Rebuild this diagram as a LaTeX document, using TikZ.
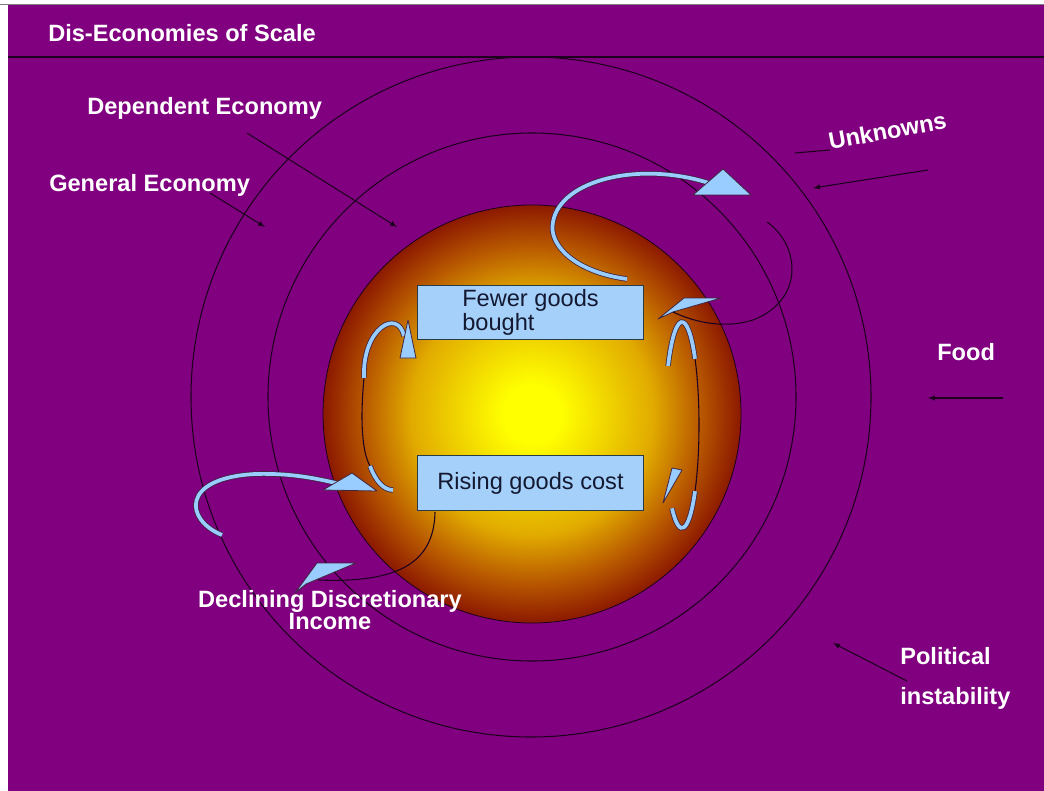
\documentclass[tikz,border=0pt]{standalone}
\usepackage{fontspec}
\setmainfont{Liberation Sans}
\usepackage{tikz}

\definecolor{plum}{RGB}{128,0,128}
\definecolor{ink}{RGB}{30,0,30}
\definecolor{paleblue}{RGB}{153,204,255}
\definecolor{boxblue}{RGB}{165,208,250}
\definecolor{boxline}{RGB}{40,60,70}
\definecolor{boxtext}{RGB}{20,25,50}
\definecolor{sunyellow}{RGB}{255,255,0}
\definecolor{sungold}{RGB}{225,170,0}
\definecolor{sunamber}{RGB}{185,90,0}
\definecolor{sunrim}{RGB}{140,25,0}

\pgfdeclareradialshading{sunball}{\pgfpoint{0bp}{0bp}}{color(0bp)=(sunyellow); color(3.5bp)=(sunyellow); color(14.5bp)=(sungold); color(20bp)=(sunamber); color(25bp)=(sunrim); color(50bp)=(sunrim)}

\begin{document}
\begin{tikzpicture}[x=0.75pt, y=-0.75pt,
  txt/.style = {text=white, font=\fontsize{17.7}{21}\selectfont\bfseries, inner sep=0},
  goods/.style = {draw=boxline, fill=boxblue, line width=0.8pt, minimum width=170pt, minimum height=41pt, inner sep=0, text=boxtext, font=\fontsize{17.7}{13.5}\selectfont},
  ring/.style = {draw=ink, line width=0.8pt},
  pointer/.style = {draw=ink, line width=0.8pt, -latex},
  thread/.style = {draw=ink, line width=0.8pt},
  shaft/.style = {draw=ink!85, line width=0.6pt, double=paleblue, double distance=2.8pt},
  barb/.style = {draw=ink!85, fill=paleblue, line width=0.6pt, line join=round}]
  \useasboundingbox (0,0) rectangle (1044,791);

  \fill[white] (0,0) rectangle (1044,791);
  \fill[plum] (8,4) rectangle (1044,791);
  \draw[gray, line width=0.6pt] (0,4) -- (1044,4);
  \draw[ink, line width=2.2pt] (8,57) -- (1044,57);

  % economies as rings round the ball
  \draw[ring] (531,397) circle[radius=340];
  \draw[ring] (532,397) circle[radius=264];
  \shadedraw[shading=sunball, draw=ink, line width=0.6pt] (532,414) circle[radius=209];

  \node[txt, anchor=base west] (title) at (48,42) {Dis-Economies of Scale};
  \node[txt, anchor=base west] (dep) at (87,115) {Dependent Economy};
  \node[txt, anchor=base west] (gen) at (49,192) {General Economy};
  \node[txt, anchor=base west, rotate=10.5] (unk) at (830,150) {Unknowns};
  \node[txt, anchor=base west] (food) at (937,360) {Food};
  \node[txt, anchor=north west, align=left] (pol) at (900,647) {Political\\[9pt]instability};
  \node[txt, anchor=north, align=center] (dec) at (330,590) {Declining Discretionary\\[-4.5pt]Income};

  \coordinate (depFrom) at (247,133);
  \coordinate (depTo) at (397,227);
  \coordinate (genFrom) at (210,193);
  \coordinate (genTo) at (265,227);
  \coordinate (unkLead) at (795,153);
  \coordinate (unkFrom) at (928,170);
  \coordinate (unkTo) at (813,188);
  \coordinate (foodFrom) at (1003,398);
  \coordinate (foodTo) at (928,398);
  \coordinate (polFrom) at (907,681);
  \coordinate (polTo) at (833,643);

  \draw[pointer] (depFrom) -- (depTo);
  \draw[pointer] (genFrom) -- (genTo);
  \draw[thread] (unkLead) -- (unk.base west);
  \draw[pointer] (unkFrom) -- (unkTo);
  \draw[pointer] (foodFrom) -- (foodTo);
  \draw[pointer] (polFrom) -- (polTo);

  % loop out over the top and back
  \draw[shaft] (627,279) .. controls (575,272) and (548,245) .. (553,222) .. controls (560,180) and (640,160) .. (712,184);
  \draw[barb] (693,195) -- (723,169) -- (751,195) -- cycle;
  \draw[barb] (658,319) -- (684,298) -- (721,298) -- (673,312) -- cycle;
  \draw[thread] (767,222) .. controls (800,245) and (805,300) .. (753,320) .. controls (720,330) and (690,320) .. (673,312);

  % loop on the right
  \draw[thread] (682,425) ++(320:17 and 103) arc[start angle=320, end angle=400, x radius=17, y radius=103];
  \draw[shaft] (682,425) ++(215:17 and 103) arc[start angle=215, end angle=320, x radius=17, y radius=103];
  \draw[shaft] (682,425) ++(40:17 and 103) arc[start angle=40, end angle=126, x radius=17, y radius=103];
  \draw[barb] (672,468) -- (682,470) -- (663,503) -- cycle;

  % loop on the left
  \draw[thread] (364,378) .. controls (360,420) and (362,452) .. (370,466);
  \draw[shaft] (364,378) .. controls (362,328) and (398,308) .. (404,336);
  \draw[shaft] (370,466) .. controls (376,482) and (384,490) .. (393,490);
  \draw[barb] (408,320) -- (400,358) -- (416,358) -- cycle;

  % loop out to the left and back
  \draw[shaft] (222,535) .. controls (185,520) and (180,478) .. (255,474) .. controls (290,473) and (315,478) .. (340,484);
  \draw[barb] (323,490) -- (352,473) -- (377,491) -- cycle;
  \draw[barb] (317,563) -- (356,563) -- (306,584) -- (295,593) -- cycle;
  \draw[thread] (435,512) .. controls (434,565) and (395,583) .. (318,580);

  \node[goods, align=left] (fewer) at (530.5,312.5) {Fewer goods\\bought};
  \node[goods] (rising) at (530.5,483) {Rising goods cost};
\end{tikzpicture}
\end{document}
